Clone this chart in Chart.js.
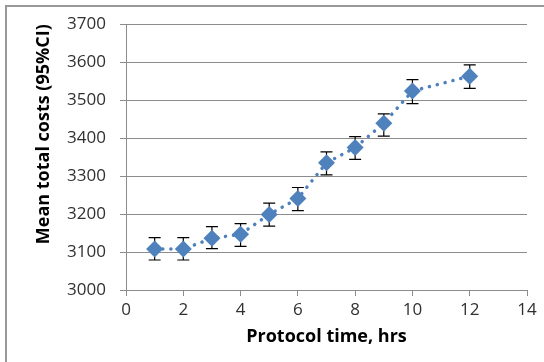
<!DOCTYPE html>
<html>
<head>
<meta charset="utf-8">
<script src="https://cdn.jsdelivr.net/npm/chart.js@4"></script>
<style>
  body { margin: 0; background: #fff; }
  #wrap { position: relative; width: 544px; height: 362px; }
  #frame { position: absolute; left: 5px; top: 5px; width: 600px; height: 400px;
           border-left: 2px solid #999; border-top: 2px solid #999; }
</style>
</head>
<body>
<div id="wrap">
  <div id="frame"></div>
  <canvas id="chart" width="544" height="362"></canvas>
</div>
<script>
// Données
const hours = [1, 2, 3, 4, 5, 6, 7, 8, 9, 10, 12];
const meanCosts = [3108, 3108, 3136, 3147, 3199, 3241, 3335, 3375, 3439, 3524, 3563];
const ciLow = [3079, 3079, 3109, 3115, 3168, 3209, 3303, 3344, 3405, 3491, 3531];
const ciHigh = [3138, 3138, 3167, 3175, 3229, 3270, 3364, 3404, 3464, 3554, 3593];
const xTicks = [0, 2, 4, 6, 8, 10, 12, 14];
const yTicks = [3000, 3100, 3200, 3300, 3400, 3500, 3600, 3700];

const blue = '#4F81BD';
const grey = '#8c8c8c';

// Barres d'erreur (IC 95%)
const errorBars = {
    id: 'errorBars',
    beforeDatasetsDraw(chart) {
        const ctx = chart.ctx;
        const xs = chart.scales.x;
        const ys = chart.scales.y;
        ctx.save();
        ctx.strokeStyle = '#000';
        ctx.lineWidth = 1.2;
        hours.forEach(function(h, i) {
            const x = xs.getPixelForValue(h);
            const top = ys.getPixelForValue(ciHigh[i]);
            const bot = ys.getPixelForValue(ciLow[i]);
            ctx.beginPath();
            ctx.moveTo(x, top); ctx.lineTo(x, bot);
            ctx.moveTo(x - 6, top); ctx.lineTo(x + 6, top);
            ctx.moveTo(x - 6, bot); ctx.lineTo(x + 6, bot);
            ctx.stroke();
        });
        ctx.restore();
    }
};

const ctx = document.getElementById('chart').getContext('2d');
new Chart(ctx, {
    type: 'scatter',
    data: {
        datasets: [{
            data: hours.map((h, i) => ({ x: h, y: meanCosts[i] })),
            showLine: true,
            borderColor: blue,
            borderWidth: 3.5,
            borderDash: [0.1, 8],
            borderCapStyle: 'round',
            pointStyle: 'rectRot',
            pointRadius: 8.5,
            pointHoverRadius: 8.5,
            pointBackgroundColor: blue,
            pointBorderColor: blue,
            pointBorderWidth: 0
        }]
    },
    options: {
        responsive: false,
        animation: false,
        layout: { padding: { left: 29, top: 24, right: 17, bottom: 10 } },
        plugins: { legend: { display: false }, tooltip: { enabled: false } },
        scales: {
            x: {
                type: 'linear',
                min: 0, max: 14,
                afterBuildTicks: s => { s.ticks = xTicks.map(v => ({ value: v })); },
                afterFit: s => { s.height = 62; },
                grid: { drawOnChartArea: false, color: grey, tickLength: 6 },
                border: { color: grey, width: 1 },
                ticks: { color: '#303030', font: { family: 'Open Sans', size: 17 }, padding: 4,
                         callback: v => String(v) },
                title: { display: true, text: 'Protocol time, hrs', color: '#000',
                         font: { family: 'Open Sans', size: 18, weight: 'bold' } }
            },
            y: {
                min: 3000, max: 3700,
                afterBuildTicks: s => { s.ticks = yTicks.map(v => ({ value: v })); },
                afterFit: s => { s.width = 97; },
                grid: { color: grey, tickLength: 6 },
                border: { color: grey, width: 1 },
                ticks: { color: '#303030', font: { family: 'Open Sans', size: 17 }, padding: 14,
                         callback: v => String(v) },
                title: { display: true, text: 'Mean total costs (95%CI)', align: 'end', color: '#000',
                         font: { family: 'Open Sans', size: 18, weight: 'bold' } }
            }
        }
    },
    plugins: [errorBars]
});
</script>
</body>
</html>
